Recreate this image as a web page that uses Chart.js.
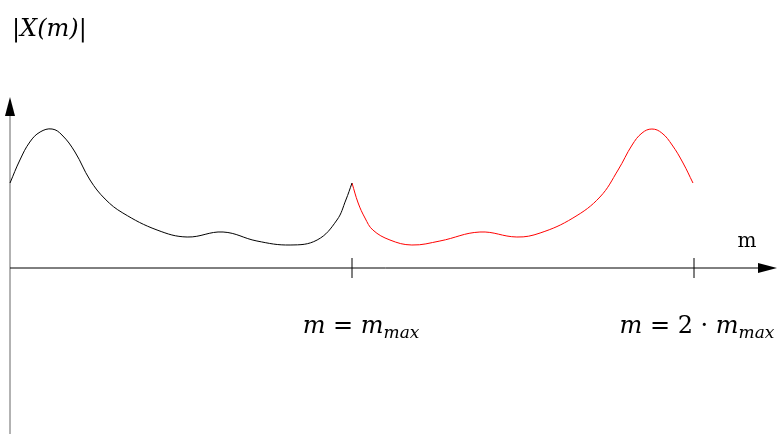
<!DOCTYPE html>
<html>
<head>
<meta charset="utf-8">
<script src="https://cdn.jsdelivr.net/npm/chart.js@4/dist/chart.umd.min.js"></script>
<style>
  html, body { margin: 0; padding: 0; background: #fff; overflow: hidden; }
  canvas { display: block; }
</style>
</head>
<body>
<canvas id="spec" width="777" height="434"></canvas>
<script>
// m in units of m_max, |X(m)| in arbitrary units
const blackM = [0, 0.029, 0.058, 0.088, 0.123, 0.152, 0.190, 0.234, 0.278, 0.330, 0.430, 0.518, 0.623, 0.722, 0.819, 0.898, 0.956, 0.982, 1.0];
const blackX = [0.85, 1.08, 1.26, 1.36, 1.39, 1.33, 1.16, 0.88, 0.69, 0.55, 0.38, 0.31, 0.36, 0.27, 0.23, 0.28, 0.48, 0.68, 0.85];
const redM = [1.0, 1.018, 1.038, 1.061, 1.111, 1.175, 1.257, 1.374, 1.482, 1.550, 1.646, 1.725, 1.778, 1.819, 1.848, 1.877, 1.906, 1.936, 1.968, 1.997];
const redX = [0.85, 0.65, 0.50, 0.38, 0.28, 0.23, 0.27, 0.36, 0.31, 0.35, 0.50, 0.71, 0.98, 1.23, 1.35, 1.39, 1.35, 1.23, 1.05, 0.85];
const tickM = [1, 2];
const tickLabels = [['m', ' = ', 'm', 'max'], ['m', ' = 2 · ', 'm', 'max']];
const yLabel = '|X(m)|';
const xLabel = 'm';

const serif = '"DejaVu Serif", "Liberation Serif", serif';

function drawMath(ctx, parts, cx, cy, size) {
  // parts: [italic, upright, italic, subscript]
  const runs = [
    { t: parts[0], f: 'italic ' + size + 'px ' + serif, dy: 0 },
    { t: parts[1], f: size + 'px ' + serif, dy: 0 },
    { t: parts[2], f: 'italic ' + size + 'px ' + serif, dy: 0 },
    { t: parts[3], f: 'italic ' + Math.round(size * 0.7) + 'px ' + serif, dy: size * 0.2 }
  ];
  let total = 0;
  runs.forEach(r => { ctx.font = r.f; r.w = ctx.measureText(r.t).width; total += r.w; });
  let x = cx - total / 2;
  ctx.textBaseline = 'alphabetic';
  ctx.textAlign = 'left';
  runs.forEach(r => { ctx.font = r.f; ctx.fillText(r.t, x, cy + r.dy); x += r.w; });
}

const axesPlugin = {
  id: 'axesPlugin',
  beforeDatasetsDraw(chart) {
    const ctx = chart.ctx;
    const xs = chart.scales.x, ys = chart.scales.y;
    const x0 = xs.getPixelForValue(0), y0 = ys.getPixelForValue(0);
    const top = ys.getPixelForValue(1.71), bottom = ys.getPixelForValue(ys.min);
    const right = xs.getPixelForValue(xs.max);
    ctx.save();
    ctx.lineWidth = 1;
    // y axis
    ctx.strokeStyle = '#666';
    ctx.beginPath();
    ctx.moveTo(x0, bottom);
    ctx.lineTo(x0, top + 16);
    ctx.stroke();
    // x axis
    ctx.strokeStyle = '#000';
    ctx.beginPath();
    ctx.moveTo(x0, y0);
    ctx.lineTo(right - 16, y0);
    ctx.stroke();
    // arrow heads
    ctx.fillStyle = '#000';
    ctx.beginPath();
    ctx.moveTo(x0, top);
    ctx.lineTo(x0 - 5, top + 19);
    ctx.lineTo(x0 + 5, top + 19);
    ctx.closePath();
    ctx.fill();
    ctx.beginPath();
    ctx.moveTo(right, y0);
    ctx.lineTo(right - 19, y0 - 5);
    ctx.lineTo(right - 19, y0 + 5);
    ctx.closePath();
    ctx.fill();
    // ticks and tick labels
    const labelShift = [9, 3];
    tickM.forEach((m, i) => {
      const px = xs.getPixelForValue(m);
      ctx.strokeStyle = '#000';
      ctx.beginPath();
      ctx.moveTo(px, y0 - 10);
      ctx.lineTo(px, y0 + 10);
      ctx.stroke();
      ctx.fillStyle = '#000';
      drawMath(ctx, tickLabels[i], px + labelShift[i], y0 + 65, 24);
    });
    // axis labels
    ctx.fillStyle = '#000';
    ctx.font = 'italic 24px ' + serif;
    ctx.textAlign = 'left';
    ctx.textBaseline = 'alphabetic';
    ctx.fillText(yLabel, x0 + 2, 36);
    ctx.font = '20px ' + serif;
    ctx.textAlign = 'center';
    ctx.fillText(xLabel, right - 30, y0 - 21);
    ctx.restore();
  }
};

new Chart(document.getElementById('spec'), {
  type: 'scatter',
  data: {
    datasets: [
      { data: blackM.map((m, i) => ({ x: m, y: blackX[i] })), borderColor: '#000', showLine: true, borderWidth: 1, pointRadius: 0, tension: 0.4, fill: false },
      { data: redM.map((m, i) => ({ x: m, y: redX[i] })), borderColor: '#ff0000', showLine: true, borderWidth: 1, pointRadius: 0, tension: 0.4, fill: false }
    ]
  },
  options: {
    responsive: false,
    animation: false,
    maintainAspectRatio: false,
    layout: { padding: 0 },
    plugins: { legend: { display: false }, tooltip: { enabled: false } },
    scales: {
      x: { type: 'linear', display: false, min: -10 / 342, max: 767 / 342 },
      y: { type: 'linear', display: false, min: -1.66, max: 2.68 }
    }
  },
  plugins: [axesPlugin]
});
</script>
</body>
</html>
